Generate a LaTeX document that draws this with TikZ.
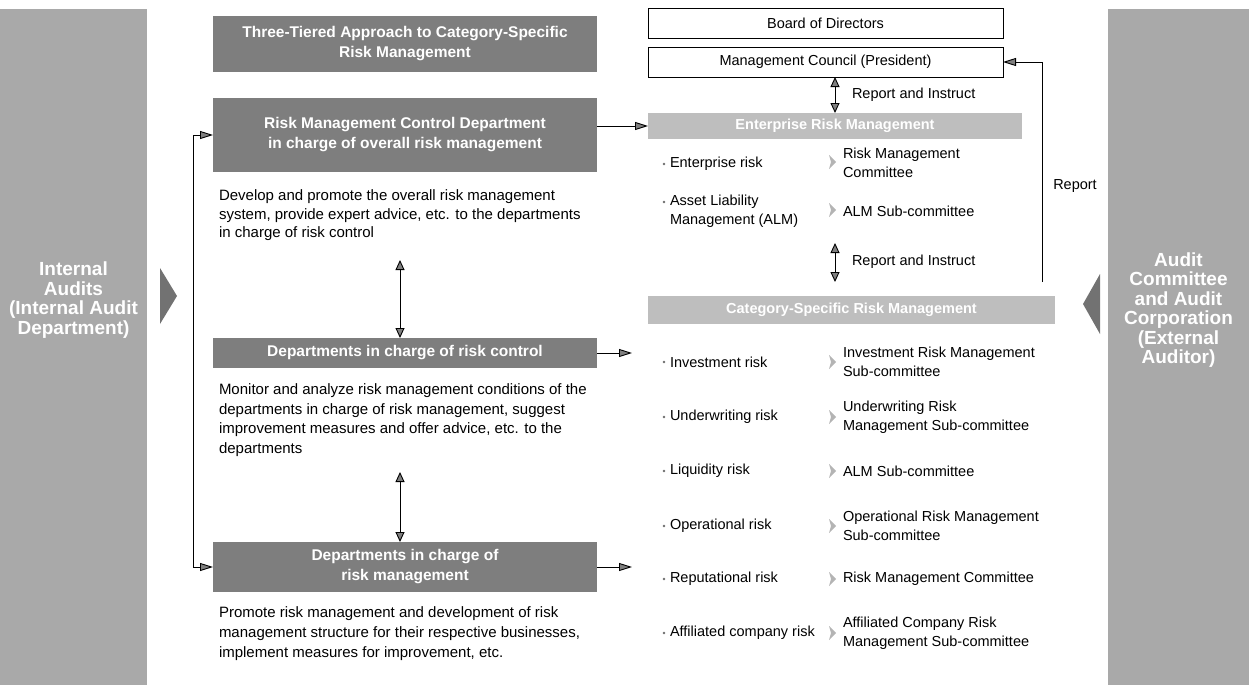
\documentclass[tikz,border=0pt]{standalone}
\usepackage{fontspec}
\setmainfont{Liberation Sans}
\usetikzlibrary{arrows.meta}

\definecolor{sidegray}{HTML}{A9A9A9}
\definecolor{boxgray}{HTML}{7E7E7E}
\definecolor{bargray}{HTML}{BEBEBE}
\definecolor{tipgray}{HTML}{7F7F7F}
\definecolor{markgray}{HTML}{B4B4B4}
\definecolor{trigray}{HTML}{727272}

\begin{document}
\begin{tikzpicture}[x=1pt,y=-1pt,
  every node/.style={inner sep=0pt, outer sep=0pt},
  body/.style={font=\fontsize{15}{19}\selectfont, align=left, anchor=north west},
  item/.style={font=\fontsize{14.5}{18.5}\selectfont, align=left, anchor=west},
  darkbox/.style={fill=boxgray, minimum width=384pt, text=white,
    font=\bfseries\fontsize{15.5}{20}\selectfont, align=center},
  lightbar/.style={fill=bargray, minimum height=26pt, text=white,
    font=\bfseries\fontsize{14.5}{18}\selectfont},
  framebox/.style={draw=black, line width=0.8pt, fill=white, minimum width=355pt,
    minimum height=30pt, font=\fontsize{14.5}{18}\selectfont},
  sidebar/.style={fill=sidegray, minimum height=676pt},
  sidetext/.style={font=\bfseries\fontsize{19}{19.5}\selectfont, text=white, align=center},
  link/.style={draw=black, line width=0.9pt,
    -{Triangle[length=13pt,width=8pt,fill=tipgray]}},
  bracket/.style={draw=black, line width=0.9pt,
    {Triangle[length=13pt,width=8pt,fill=tipgray]}-{Triangle[length=13pt,width=8pt,fill=tipgray]}},
  duplex/.style={draw=black, line width=0.9pt,
    {Triangle[length=10pt,width=9pt,fill=tipgray]}-{Triangle[length=10pt,width=9pt,fill=tipgray]}},
  chevron/.style={fill=markgray},
  dot/.style={fill=markgray!60!black},
]
\useasboundingbox (0,0) rectangle (1249,685);

% side panels with the auditors
\node[sidebar, minimum width=147pt] (internal) at (73.5,347) {};
\node[sidebar, minimum width=141pt] (external) at (1178.5,347) {};
\node[sidetext] (internaltxt) at (73.5,300)
  {Internal\\Audits\\(Internal Audit\\Department)};
\node[sidetext] (externaltxt) at (1178.5,310)
  {Audit\\Committee\\and Audit\\Corporation\\(External\\Auditor)};
\fill[trigray] (160,268) -- (177,296) -- (160,324) -- cycle;
\fill[trigray] (1100,274) -- (1083,304) -- (1100,334) -- cycle;

% three tiers
\node[darkbox, minimum height=56pt] (tier) at (405,44)
  {Three-Tiered Approach to Category-Specific\\Risk Management};
\node[darkbox, minimum height=74pt] (rmcd) at (405,135)
  {Risk Management Control Department\\in charge of overall risk management};
\node[darkbox, minimum height=30pt] (ctrl) at (405,353)
  {Departments in charge of risk control};
\node[darkbox, minimum height=50pt] (mgmt) at (405,567)
  {Departments in charge of\\risk management};

\node[body, font=\fontsize{15}{18.5}\selectfont] (d1) at (219,190)
  {Develop and promote the overall risk management\\
   system, provide expert advice, etc. to the departments\\
   in charge of risk control};
\node[body, font=\fontsize{15}{19.5}\selectfont] (d2) at (219,384)
  {Monitor and analyze risk management conditions of the\\
   departments in charge of risk management, suggest\\
   improvement measures and offer advice, etc. to the\\
   departments};
\node[body, font=\fontsize{15}{20}\selectfont] (d3) at (219,607)
  {Promote risk management and development of risk\\
   management structure for their respective businesses,\\
   implement measures for improvement, etc.};

% links between the tiers
\coordinate (v1) at (400,260);
\draw[duplex] (v1) -- (v1 |- ctrl.north);
\coordinate (v2) at (400,472);
\draw[duplex] (v2) -- (v2 |- mgmt.north);
\draw[bracket] (rmcd.west) -- ++(-20,0) |- (mgmt.west);

% governance
\node[framebox] (board) at (825.5,23.5) {Board of Directors};
\node[framebox] (council) at (825.5,62) {Management Council (President)};
\node[lightbar, minimum width=374pt] (erm) at (835,126) {Enterprise Risk Management};
\node[lightbar, minimum width=407pt, minimum height=28pt] (csrm) at (851.5,310)
  {Category-Specific Risk Management};

\draw[duplex] (council.south -| erm.north) -- (erm.north);
\node[item] (ri1) at (852,95) {Report and Instruct};
\coordinate (ri2top) at (835,243);
\coordinate (ri2bot) at (835,282);
\draw[duplex] (ri2top) -- (ri2bot);
\node[item] (ri2) at (852,262) {Report and Instruct};

\coordinate (rep0) at (1042,282);
\draw[link] (rep0) |- (council.east);
\node[item, anchor=center] (rep) at (1075,186) {Report};

\draw[link] (rmcd.east |- erm.west) -- (erm.west);
\coordinate (ctrlto) at (632,353);
\draw[link] (ctrl.east) -- (ctrlto);
\coordinate (mgmtto) at (632,567);
\draw[link] (mgmt.east) -- (mgmtto);

% enterprise risk rows
\node[item] (e1) at (670,164) {Enterprise risk};
\node[item] (e2) at (670,211) {Asset Liability\\Management (ALM)};
\node[item] (c1) at (843,163) {Risk Management\\Committee};
\node[item] (c2) at (843,211) {ALM Sub-committee};

% category-specific rows
\node[item] (k1) at (670,362) {Investment risk};
\node[item] (k2) at (670,417) {Underwriting risk};
\node[item] (k3) at (670,471) {Liquidity risk};
\node[item] (k4) at (670,526) {Operational risk};
\node[item] (k5) at (670,579) {Reputational risk};
\node[item] (k6) at (670,633) {Affiliated company risk};
\node[item] (s1) at (843,362) {Investment Risk Management\\Sub-committee};
\node[item] (s2) at (843,417) {Underwriting Risk\\Management Sub-committee};
\node[item] (s3) at (843,471) {ALM Sub-committee};
\node[item] (s4) at (843,526) {Operational Risk Management\\Sub-committee};
\node[item] (s5) at (843,579) {Risk Management Committee};
\node[item] (s6) at (843,633) {Affiliated Company Risk\\Management Sub-committee};

% bullets and pointers
\foreach \yy in {164,202,362,417,471,526,579,633} {
  \fill[dot] (664,\yy) circle (1.4pt);
}
\foreach \yy in {162,210,362,417,471,526,579,633} {
  \fill[chevron] (829,\yy-7) -- (836,\yy) -- (829,\yy+7) -- (831,\yy) -- cycle;
}
\end{tikzpicture}
\end{document}
